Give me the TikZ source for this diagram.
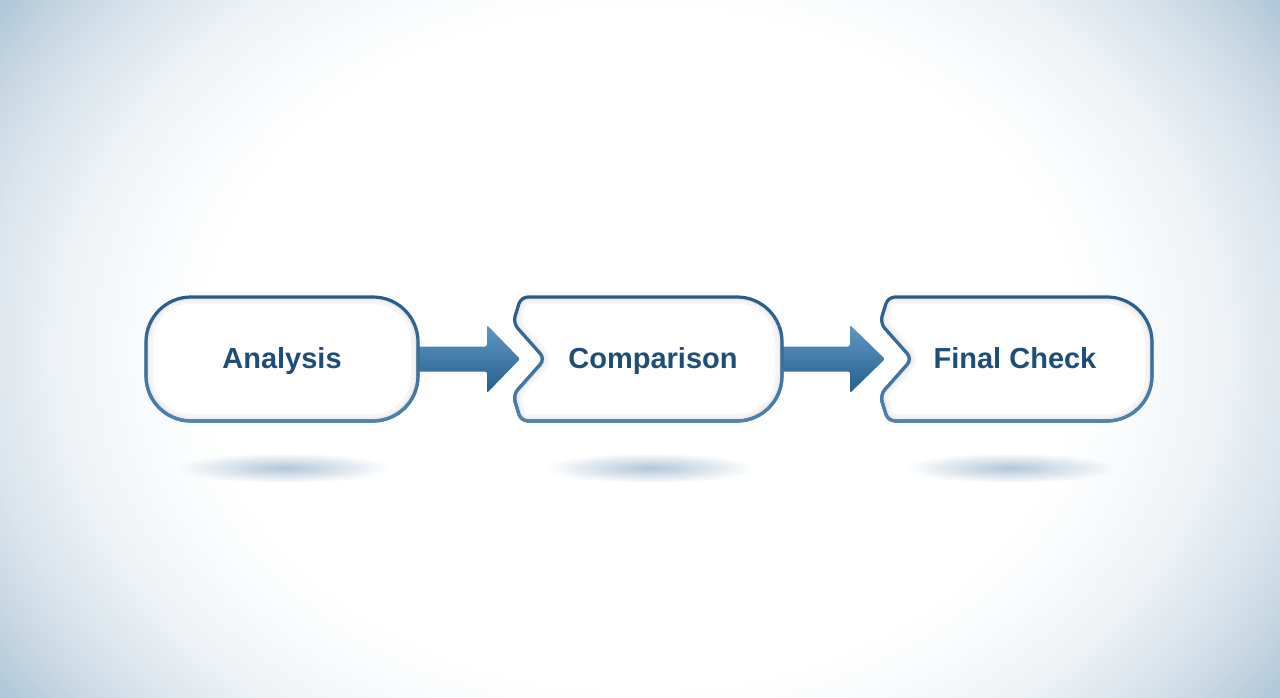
\documentclass[tikz,border=0pt]{standalone}
\usepackage{fontspec}
\setmainfont{Liberation Sans}
\usetikzlibrary{calc,fadings}
\definecolor{bordercol}{RGB}{40,92,136}
\definecolor{borderlight}{RGB}{80,132,176}
\definecolor{textcol}{RGB}{30,78,120}
\definecolor{arrowtop}{RGB}{96,152,196}
\definecolor{arrowbot}{RGB}{36,94,138}
\definecolor{bgA}{RGB}{241,245,248}
\definecolor{bgB}{RGB}{223,232,239}
\definecolor{bgD}{RGB}{200,216,228}
\definecolor{bgC}{RGB}{165,195,215}
\definecolor{shadowcol}{RGB}{80,132,176}
\pgfdeclareradialshading{vignette}{\pgfpoint{0bp}{0bp}}{color(0bp)=(white); color(17bp)=(white); color(22bp)=(bgA); color(25bp)=(bgB); color(28bp)=(bgD); color(31bp)=(bgC); color(50bp)=(bgC)}
\tikzfading[name=softfade, inner color=transparent!0, outer color=transparent!100]
\pgfdeclarelayer{back}
\pgfdeclarelayer{mid}
\pgfsetlayers{back,mid,main}
\newcommand{\nboxpath}[2]{(0,62) [rounded corners=45pt] -- (#2,62) -- (#2,-62) -- (0,-62) [rounded corners=7pt] -- (#1+8,-62) -- (#1,-36) -- (#1+32,0) -- (#1,36) -- (#1+8,62) -- cycle}
\newcommand{\drawnbox}[2]{%
  \fill[white] \nboxpath{#1}{#2};
  \begin{scope}
    \clip \nboxpath{#1}{#2};
    \draw[line width=14pt, black!4] \nboxpath{#1}{#2};
    \draw[line width=7pt, black!8] \nboxpath{#1}{#2};
  \end{scope}
  \draw[boxline] \nboxpath{#1}{#2};
  \draw[boxhi] \nboxpath{#1}{#2};}
\begin{document}
\begin{tikzpicture}[x=1pt,y=-1pt,
  boxtext/.style={font=\bfseries\fontsize{29}{34}\selectfont, text=textcol, inner sep=0pt, text height=21pt, text depth=3pt},
  boxline/.style={line width=3.2pt, draw=bordercol},
  boxhi/.style={line width=3.2pt, draw=borderlight, path fading=north},
  arrowshape/.style={top color=arrowtop, bottom color=arrowbot, rounded corners=2pt},
  shadowblob/.style={fill=shadowcol, fill opacity=0.45, path fading=softfade}]
\useasboundingbox (0,0) rectangle (1280,698);

% text nodes
\node[boxtext] (a) at (282,359) {Analysis};
\node[boxtext] (b) at (653,359) {Comparison};
\node[boxtext] (c) at (1015,359) {Final Check};

\begin{pgfonlayer}{back}
  \begin{scope}
    \clip (0,0) rectangle (1280,698);
    \shade[shading=vignette] (0,-150) rectangle (1280,848);
  \end{scope}
  \fill[shadowblob] ($(a.center)+(-105,94)$) rectangle ($(a.center)+(109,124)$);
  \fill[shadowblob] ($(b.center)+(-108,94)$) rectangle ($(b.center)+(102,124)$);
  \fill[shadowblob] ($(c.center)+(-110,94)$) rectangle ($(c.center)+(100,124)$);
\end{pgfonlayer}

\begin{pgfonlayer}{mid}
  % connectors
  \shade[arrowshape] ($(a.center)+(128,-12.5)$) -- ($(a.center)+(205,-12.5)$) -- ($(a.center)+(205,-34)$)
     -- ($(b.center)+(-133,0)$) -- ($(a.center)+(205,34)$) -- ($(a.center)+(205,12.5)$)
     -- ($(a.center)+(128,12.5)$) -- cycle;
  \shade[arrowshape] ($(b.center)+(122,-12.5)$) -- ($(b.center)+(197,-12.5)$) -- ($(b.center)+(197,-34)$)
     -- ($(c.center)+(-130,0)$) -- ($(b.center)+(197,34)$) -- ($(b.center)+(197,12.5)$)
     -- ($(b.center)+(122,12.5)$) -- cycle;
  % box A
  \begin{scope}[shift={(a.center)}]
    \fill[white, rounded corners=45pt] (-136,-62) rectangle (136,62);
    \begin{scope}
      \clip[rounded corners=45pt] (-136,-62) rectangle (136,62);
      \draw[line width=14pt, black!4, rounded corners=45pt] (-136,-62) rectangle (136,62);
      \draw[line width=7pt, black!8, rounded corners=45pt] (-136,-62) rectangle (136,62);
    \end{scope}
    \draw[boxline, rounded corners=45pt] (-136,-62) rectangle (136,62);
    \draw[boxhi, rounded corners=45pt] (-136,-62) rectangle (136,62);
  \end{scope}
  % box B
  \begin{scope}[shift={(b.center)}]
    \drawnbox{-140}{129}
  \end{scope}
  % box C
  \begin{scope}[shift={(c.center)}]
    \drawnbox{-135}{137}
  \end{scope}
\end{pgfonlayer}
\end{tikzpicture}
\end{document}
